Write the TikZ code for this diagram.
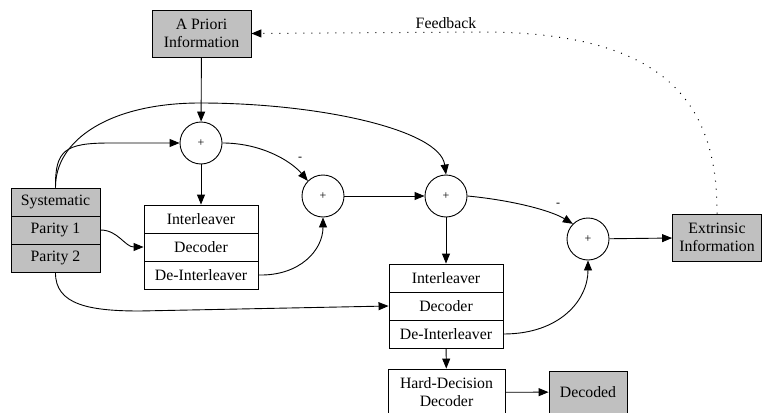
\documentclass[tikz,border=0pt]{standalone}
\usepackage{fontspec}
\setmainfont{Liberation Serif}
\usetikzlibrary{arrows.meta}
\definecolor{boxgray}{RGB}{192,192,192}
\begin{document}
\begin{tikzpicture}[x=1pt,y=-1pt,
  every node/.style={font=\fontsize{15.8}{18}\selectfont},
  box/.style={draw, line width=0.9pt, inner sep=0pt, align=center},
  gbox/.style={box, fill=boxgray},
  rowA/.style={box, minimum width=114pt, minimum height=28pt},
  rowS/.style={gbox, minimum width=89pt, minimum height=28pt},
  sum/.style={circle, draw, line width=0.9pt, minimum size=42pt, inner sep=0pt, font=\fontsize{12}{14}\selectfont},
  arr/.style={line width=0.9pt, -{Triangle[length=10pt,width=8pt]}},
  fb/.style={line width=1pt, dash pattern=on 1pt off 7pt, -{Triangle[length=10pt,width=8pt]}},
  lbl/.style={font=\fontsize{12}{14}\selectfont}
]
\useasboundingbox (0,0) rectangle (762,412);

% nodes
\node[gbox, minimum width=99pt, minimum height=47pt] (ap) at (201.5,33.5) {A Priori\\Information};
\node[sum] (s1) at (201,143) {+};
\node[sum] (s2) at (323,196) {+};
\node[sum] (s3) at (446,196) {+};
\node[sum] (s4) at (588,239) {+};

\node[rowS] (sys) at (55.5,202) {Systematic};
\node[rowS] (p1)  at (55.5,230) {Parity 1};
\node[rowS] (p2)  at (55.5,258) {Parity 2};

\node[rowA] (int1) at (201,219) {Interleaver};
\node[rowA] (dec1) at (201,247) {Decoder};
\node[rowA] (di1)  at (201,275) {De-Interleaver};

\node[rowA] (int2) at (446,278) {Interleaver};
\node[rowA] (dec2) at (446,306) {Decoder};
\node[rowA] (di2)  at (446,334) {De-Interleaver};

\node[box, minimum width=117pt, minimum height=47pt] (hdd) at (446.5,392.5) {Hard-Decision\\Decoder};
\node[gbox, minimum width=78pt, minimum height=42pt] (dcd) at (588,392) {Decoded};
\node[gbox, minimum width=89pt, minimum height=47pt] (ext) at (717,237.5) {Extrinsic\\Information};

% connectors
\draw[arr] (ap) -- (s1);
\draw[arr] (sys.north) .. controls (55,150) and (65,143) .. (110,143) -- (s1.west);
\draw[arr] (sys.north) .. controls (55,140) and (110,103) .. (200,103)
           .. controls (320,103) and (440,130) .. (s3.north);
\draw[arr] (s1.east) .. controls (260,143) and (290,160) .. (s2.north west);
\node[lbl] (m1) at (300,159) {-};
\draw[arr] (s1) -- (int1);
\draw[arr] (p1.east) .. controls (118,230) and (125,247) .. (dec1.west);
\draw[arr] (di1.east) .. controls (300,276) and (323,250) .. (s2.south);
\draw[arr] (s2) -- (s3);
\draw[arr] (s3.east) .. controls (510,200) and (550,210) .. (s4.north west);
\node[lbl] (m2) at (558,205) {-};
\draw[arr] (s3) -- (int2);
\draw[arr] (p2.south) .. controls (55,305) and (90,311) .. (140,311) -- (dec2.west);
\draw[arr] (di2.east) .. controls (560,334) and (588,300) .. (s4.south);
\draw[arr] (s4) -- (ext);
\draw[arr] (di2) -- (hdd);
\draw[arr] (hdd) -- (dcd);
\draw[fb] (ext.north) .. controls (718,90) and (650,32) .. (480,32) -- (ap.east);
\node (fbl) at (446,23) {Feedback};
\end{tikzpicture}
\end{document}
